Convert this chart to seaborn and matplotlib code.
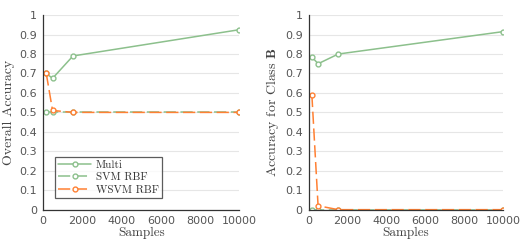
import matplotlib
matplotlib.use("Agg")
import matplotlib.pyplot as plt
from matplotlib.ticker import MultipleLocator
import seaborn as sns

samples = [160, 480, 1520, 10000]
series = ["Multi", "SVM RBF", "WSVM RBF"]

overall_multi = [0.70, 0.675, 0.79, 0.925]
overall_svm = [0.50, 0.50, 0.50, 0.50]
overall_wsvm = [0.70, 0.51, 0.50, 0.50]

classb_multi = [0.785, 0.75, 0.80, 0.915]
classb_svm = [0.0, 0.0, 0.0, 0.0]
classb_wsvm = [0.59, 0.02, 0.0, 0.0]

green = "#8cc08c"
orange = "#ff8033"
colors = [green, green, orange]
styles = ["-", (0, (8, 3)), (0, (8, 3))]

sns.set_style("white")
plt.rcParams["mathtext.fontset"] = "cm"

fig = plt.figure(figsize=(5.26, 2.52), dpi=100)
ax1 = fig.add_axes([0.082, 0.168, 0.373, 0.772])
ax2 = fig.add_axes([0.587, 0.168, 0.369, 0.772])

panels = [
    (ax1, [overall_multi, overall_svm, overall_wsvm], "Overall Accuracy"),
    (ax2, [classb_multi, classb_svm, classb_wsvm], r"Accuracy for Class $\mathbf{B}$"),
]

for ax, data, ylab in panels:
    for name, vals, c, ls in zip(series, data, colors, styles):
        sns.lineplot(x=samples, y=vals, color=c, linestyle=ls, marker="o",
                     markersize=3.5, markerfacecolor="white", markeredgecolor=c,
                     markeredgewidth=1, linewidth=1.1, label=name, ax=ax)
    ax.set_xlim(0, 10000)
    ax.set_ylim(0, 1)
    ax.yaxis.set_major_locator(MultipleLocator(0.1))
    ax.yaxis.set_minor_locator(MultipleLocator(0.02))
    ax.xaxis.set_major_locator(MultipleLocator(2000))
    ax.xaxis.set_minor_locator(MultipleLocator(1000))
    ax.yaxis.set_major_formatter(plt.FuncFormatter(lambda v, p: f"{v:g}"))
    ax.xaxis.set_major_formatter(plt.FuncFormatter(lambda v, p: f"{v:.0f}"))
    ax.grid(axis="y", color="#e6e6e6", linewidth=0.8)
    ax.set_axisbelow(True)
    for s in ["top", "right"]:
        ax.spines[s].set_visible(False)
    for s in ["left", "bottom"]:
        ax.spines[s].set_color("#333333")
        ax.spines[s].set_linewidth(0.9)
    ax.tick_params(axis="both", which="major", direction="inout", length=5,
                   width=0.9, color="#333333", labelsize=8, labelcolor="#555555", pad=2)
    ax.tick_params(axis="both", which="minor", direction="inout", length=2.5,
                   width=0.7, color="#333333")
    ax.set_xlabel("Samples", fontfamily="cmr10", fontsize=9.5, color="#444444", labelpad=1)
    ax.set_ylabel(ylab, fontfamily="cmr10", fontsize=10, color="#444444", labelpad=3)
    if ax is ax2:
        ax.get_legend().remove()

leg = ax1.legend(loc="lower left", bbox_to_anchor=(0.03, 0.03), frameon=True,
                 fancybox=False, edgecolor="#333333", handlelength=3,
                 prop={"family": "cmr10", "size": 8}, borderpad=0.3,
                 labelspacing=0.25, handletextpad=0.4)
leg.get_frame().set_linewidth(0.9)
for t in leg.get_texts():
    t.set_color("#333333")

fig.savefig("out.png", dpi=100)
